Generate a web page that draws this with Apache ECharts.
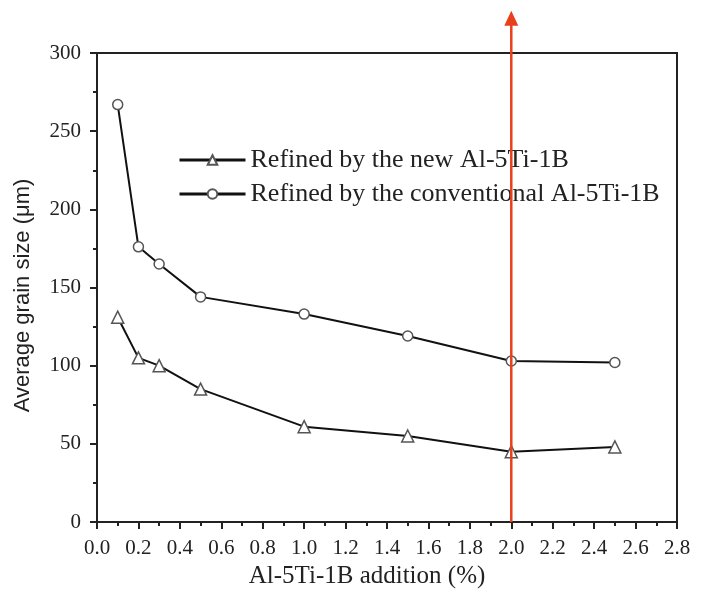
<!DOCTYPE html>
<html><head><meta charset="utf-8">
<script src="https://cdn.jsdelivr.net/npm/echarts@6/dist/echarts.min.js"></script>
<style>html,body{margin:0;padding:0;background:#fff}#c{width:706px;height:594px}</style>
</head><body><div id="c"></div>
<script>
const xValues = [0.1, 0.2, 0.3, 0.5, 1.0, 1.5, 2.0, 2.5];
const newAlloy = [131, 105, 100, 85, 61, 55, 45, 48];
const conventional = [267, 176, 165, 144, 133, 119, 103, 102];
const seriesNames = ['Refined by the new Al-5Ti-1B', 'Refined by the conventional Al-5Ti-1B'];
const markerX = 2.0;
const arrowBottom = 0;
const arrowTop = 327;

const font = 'Liberation Serif';
const chart = echarts.init(document.getElementById('c'));
const pairs = (ys) => xValues.map((x, i) => [x, ys[i]]);
const axisLine = {show: true, lineStyle: {color: '#222', width: 2}};
const red = '#e8401c';
chart.setOption({
  animation: false,
  backgroundColor: '#fff',
  grid: {left: 97, right: 29, top: 53, bottom: 70, show: true, borderColor: '#222', borderWidth: 2, backgroundColor: 'transparent'},
  legend: {
    orient: 'vertical', left: 173, top: 142, itemWidth: 66, itemHeight: 12, itemGap: 8,
    textStyle: {fontFamily: font, fontSize: 26, color: '#222'},
    lineStyle: {width: 3, color: '#111'},
    data: seriesNames
  },
  xAxis: {
    type: 'value', min: 0, max: 2.8, interval: 0.2,
    name: 'Al-5Ti-1B addition (%)', nameLocation: 'middle', nameGap: 42,
    nameTextStyle: {fontFamily: font, fontSize: 25, color: '#222', padding: [0, 40, 0, 0]},
    axisLine: axisLine,
    axisTick: {show: true, length: 7, lineStyle: {color: '#222', width: 2}},
    minorTick: {show: true, splitNumber: 2, length: 4, lineStyle: {color: '#222', width: 2}},
    splitLine: {show: false},
    axisLabel: {fontFamily: font, fontSize: 21, color: '#222', margin: 16, formatter: v => v.toFixed(1)}
  },
  yAxis: {
    type: 'value', min: 0, max: 300, interval: 50,
    name: 'Average grain size (μm)', nameLocation: 'middle', nameGap: 63,
    nameTextStyle: {fontFamily: 'Liberation Sans', fontSize: 22, color: '#222', padding: [0, 16, 0, 0]},
    axisLine: axisLine,
    axisTick: {show: true, length: 7, lineStyle: {color: '#222', width: 2}},
    minorTick: {show: true, splitNumber: 2, length: 4, lineStyle: {color: '#222', width: 2}},
    splitLine: {show: false},
    axisLabel: {fontFamily: font, fontSize: 21, color: '#222', margin: 16}
  },
  series: [
    {
      name: seriesNames[0], type: 'line', data: pairs(newAlloy),
      symbol: 'triangle', symbolSize: 12, showAllSymbol: true,
      lineStyle: {color: '#111', width: 2},
      itemStyle: {color: '#fff', borderColor: '#555', borderWidth: 1.5},
      z: 3
    },
    {
      name: seriesNames[1], type: 'line', data: pairs(conventional),
      symbol: 'circle', symbolSize: 10, showAllSymbol: true,
      lineStyle: {color: '#111', width: 2},
      itemStyle: {color: '#fff', borderColor: '#555', borderWidth: 1.5},
      z: 3
    },
    {
      type: 'custom', clip: false, z: 10, silent: true,
      data: [[markerX, arrowBottom, arrowTop]],
      renderItem: function (params, api) {
        const p0 = api.coord([api.value(0), api.value(1)]);
        const p1 = api.coord([api.value(0), api.value(2)]);
        const headH = 15, headW = 7;
        return {
          type: 'group',
          children: [
            {type: 'line', shape: {x1: p0[0], y1: p0[1], x2: p1[0], y2: p1[1] + headH - 2},
             style: {stroke: red, lineWidth: 2.5}},
            {type: 'polygon', shape: {points: [[p1[0], p1[1]], [p1[0] - headW, p1[1] + headH], [p1[0] + headW, p1[1] + headH]]},
             style: {fill: red}}
          ]
        };
      }
    }
  ]
});
</script></body></html>
